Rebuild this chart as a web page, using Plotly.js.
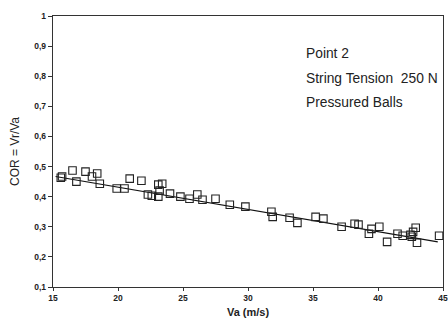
<!DOCTYPE html>
<html>
<head>
<meta charset="utf-8">
<script src="https://cdn.plot.ly/plotly-3.0.1.min.js"></script>
<style>html,body{margin:0;padding:0;background:#fff;}#chart{width:448px;height:321px;}</style>
</head>
<body>
<div id="chart"></div>
<script>
// Measured points: inbound velocity Va (m/s) and COR = Vr/Va
const va = [15.6, 15.7, 16.5, 16.8, 17.5, 18.0, 18.4, 18.6, 19.9, 20.5, 20.9, 21.8, 22.3, 22.6,
            23.1, 23.1, 23.4, 23.2, 24.0, 24.8, 25.5, 26.1, 26.5, 27.5, 28.6, 29.8, 31.8, 31.9,
            33.2, 33.8, 35.2, 35.8, 37.2, 38.2, 38.5, 39.3, 39.5, 40.1, 40.7, 41.5, 41.9, 42.5,
            42.7, 42.9, 42.6, 43.0, 44.7];
const cor = [0.463, 0.467, 0.487, 0.450, 0.483, 0.467, 0.477, 0.443, 0.427, 0.427, 0.460, 0.453, 0.407, 0.403,
             0.400, 0.440, 0.443, 0.420, 0.410, 0.400, 0.393, 0.407, 0.390, 0.393, 0.373, 0.367, 0.350, 0.333,
             0.330, 0.313, 0.333, 0.327, 0.300, 0.310, 0.307, 0.277, 0.293, 0.300, 0.250, 0.277, 0.270, 0.273,
             0.283, 0.297, 0.267, 0.247, 0.270];
// Linear fit line end points
const fitX = [15.2, 44.6];
const fitY = [0.467, 0.250];
// Axis ticks
const xTickVals = [15, 20, 25, 30, 35, 40, 45];
const yTickVals = [0.1, 0.2, 0.3, 0.4, 0.5, 0.6, 0.7, 0.8, 0.9, 1];
const yTickText = ['0,1', '0,2', '0,3', '0,4', '0,5', '0,6', '0,7', '0,8', '0,9', '1'];
// Annotation lines
const notes = ['Point 2', 'String Tension  250 N', 'Pressured Balls'];
const noteY = [0.877, 0.793, 0.713];

const traces = [
  {x: fitX, y: fitY, type: 'scatter', mode: 'lines', line: {color: '#111', width: 1.2}, hoverinfo: 'skip'},
  {x: va, y: cor, type: 'scatter', mode: 'markers',
   marker: {symbol: 'square-open', size: 7.5, color: '#222', line: {width: 1.1}}}
];

const tickFont = {family: 'Arial, Liberation Sans, sans-serif', size: 8.5, color: '#222', weight: 'bold'};
const layout = {
  width: 448, height: 321,
  margin: {l: 53, r: 5, t: 16, b: 34},
  paper_bgcolor: '#fff', plot_bgcolor: '#fff',
  showlegend: false,
  xaxis: {
    range: [15, 45], tickvals: xTickVals, ticks: 'outside', ticklen: 3, tickcolor: '#333',
    showline: true, mirror: true, linecolor: '#333', linewidth: 1.2, showgrid: false, zeroline: false,
    tickfont: tickFont,
    title: {text: 'Va (m/s)', font: {family: 'Arial, Liberation Sans, sans-serif', size: 11, color: '#222', weight: 'bold'}, standoff: 5}
  },
  yaxis: {
    range: [0.1, 1], tickvals: yTickVals, ticktext: yTickText, ticks: 'outside', ticklen: 4, tickcolor: '#333',
    showline: true, mirror: true, linecolor: '#333', linewidth: 1.2, showgrid: false, zeroline: false,
    tickfont: tickFont,
    title: {text: 'COR = Vr/Va', font: {family: 'Arial, Liberation Sans, sans-serif', size: 12, color: '#222'}, standoff: 12}
  },
  annotations: notes.map((t, i) => ({
    text: t, x: 34.3, y: noteY[i], xref: 'x', yref: 'y', xanchor: 'left', yanchor: 'middle',
    showarrow: false, font: {family: 'Arial, Liberation Sans, sans-serif', size: 13.8, color: '#222'}
  }))
};

Plotly.newPlot('chart', traces, layout, {displayModeBar: false, staticPlot: true});
</script>
</body>
</html>
